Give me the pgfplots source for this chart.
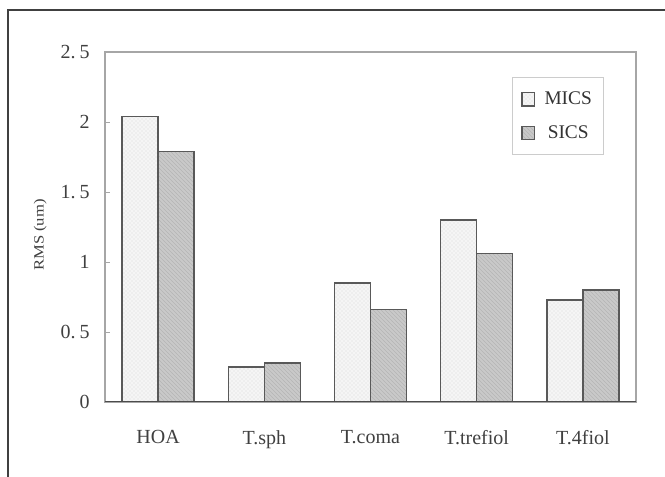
\documentclass[border=0pt]{standalone}
\usepackage{fontspec}
\setmainfont{Liberation Serif}
\usepackage{pgfplots}
\pgfplotsset{compat=1.18}
\usetikzlibrary{patterns}
\begin{document}
\begin{tikzpicture}
\path[use as bounding box] (0,0) rectangle (498.75pt,357.75pt);
\draw[black!75, line width=0.9pt] (6pt,0) -- (6pt,350.25pt) -- (498.75pt,350.25pt);
\begin{axis}[
  at={(78.75pt,56.25pt)}, anchor=south west,
  scale only axis, width=398.25pt, height=262.5pt,
  ybar=0pt, bar width=27pt,
  xmin=-0.5, xmax=4.5, ymin=0, ymax=2.5,
  xtick=data, xticklabels={HOA, T.sph, T.coma, T.trefiol, T.4fiol},
  ytick={0,0.5,1,1.5,2,2.5},
  yticklabels={0, 0.\kern3pt5, 1, 1.\kern3pt5, 2, 2.\kern3pt5},
  ytick pos=left,
  /pgf/number format/assume math mode=true,
  tick label style={font=\fontsize{15}{17}\selectfont, text=black!75},
  x tick style={draw=none},
  y tick style={draw=gray!70, line width=0.6pt},
  major tick length=4pt, tick align=inside,
  xticklabel style={yshift=-18pt},
  yticklabel style={xshift=-8pt},
  axis line style={draw=gray!70, line width=1pt},
  ylabel={\scalebox{1}[0.85]{RMS (um)}},
  ylabel style={font=\fontsize{12.5}{14}\selectfont, text=black!75, at={(axis description cs:-0.122,0.477)}, anchor=center},
  legend style={at={(0.766,0.929)}, anchor=north west, draw=gray!40, line width=0.6pt,
    font=\fontsize{14.5}{16}\selectfont, text=black!80, row sep=10pt, inner xsep=7pt, inner ysep=9pt,
    /tikz/every odd column/.append style={column sep=5pt}},
  legend image code/.code={\draw[#1, line width=0.8pt] (2pt,-5pt) rectangle (11.5pt,5pt);},
]
\addplot[draw=black!65, line width=1.1pt, fill=gray!8, postaction={pattern=crosshatch dots, pattern color=gray!30}]
  coordinates {(0,2.04) (1,0.25) (2,0.85) (3,1.30) (4,0.73)};
\addplot[draw=black!65, line width=1.1pt, fill=gray!42, postaction={pattern=north west lines, pattern color=gray!58}]
  coordinates {(0,1.79) (1,0.28) (2,0.66) (3,1.06) (4,0.80)};
\legend{MICS, SICS}
\draw[black!70, line width=1.2pt] (rel axis cs:0,0) -- (rel axis cs:1,0);
\end{axis}
\end{tikzpicture}
\end{document}
